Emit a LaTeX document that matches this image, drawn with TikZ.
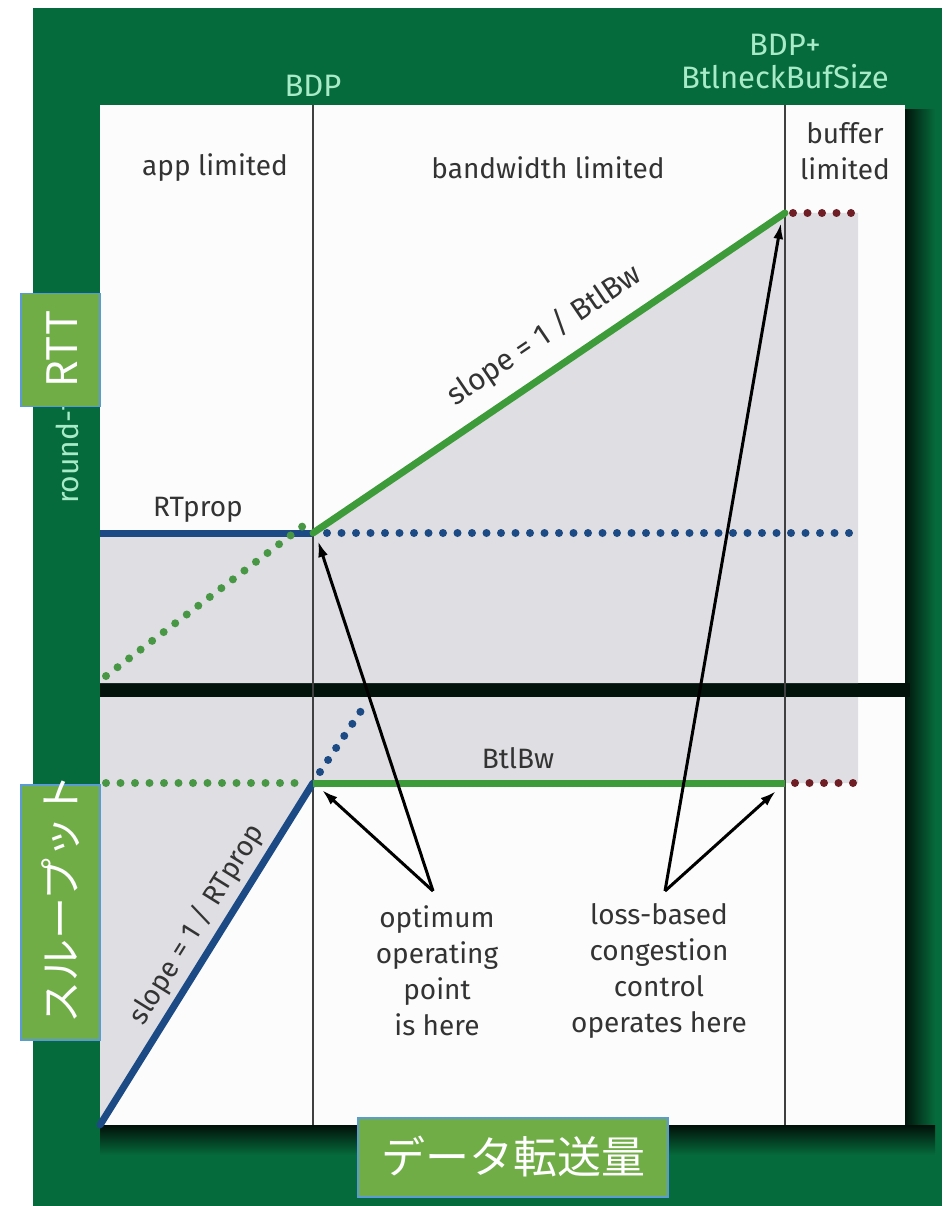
\documentclass[tikz,border=0pt]{standalone}
\usepackage{fontspec}
\setmainfont{Fira Sans}
\newfontfamily\jpfont{Noto Sans CJK JP}
\usetikzlibrary{arrows.meta}
\definecolor{frame}{HTML}{066B3C}
\definecolor{lgtext}{HTML}{A8EBC9}
\definecolor{panel}{HTML}{FCFCFC}
\definecolor{grayfill}{HTML}{DEDEE3}
\definecolor{bluel}{HTML}{1B4A85}
\definecolor{greenl}{HTML}{3D9B3A}
\definecolor{redd}{HTML}{6E1E24}
\definecolor{textc}{HTML}{333333}
\definecolor{vlinec}{HTML}{404040}
\definecolor{boxg}{HTML}{70AD47}
\definecolor{boxb}{HTML}{5B9BD5}
\tikzset{
  lbl/.style={text=textc, font=\fontsize{28}{36}\selectfont, align=center, inner sep=0pt},
  toplbl/.style={text=lgtext, font=\fontsize{31}{33}\selectfont, align=center, inner sep=0pt},
  vline/.style={draw=vlinec, line width=2.8pt},
  solidline/.style={line width=7pt, line cap=round},
  dotline/.style={line width=8pt, line cap=round, dash pattern=on 0pt off 14.5pt},
  pointer/.style={draw=black, line width=3pt, -{Latex[length=16pt,width=10pt]}},
  jpbox/.style={fill=boxg, draw=boxb, line width=1.5pt, inner sep=0pt},
  jptext/.style={text=white, font=\jpfont\fontsize{42}{46}\selectfont, inner sep=0pt},
}
\begin{document}
\begin{tikzpicture}[x=1pt,y=-1pt]
\useasboundingbox (0,0) rectangle (951,1206);
\fill[white] (0,0) rectangle (951,1206);
\fill[frame] (33,8) rectangle (942,1206);
% shadows
\shade[left color=black!80!frame, right color=frame] (905,110) rectangle (935,1150);
\shade[top color=black!85!frame, bottom color=frame] (100,1125) rectangle (935,1155);
\fill[black!82!frame] (100,683) rectangle (910,697);
% panels
\fill[panel] (100,105) rectangle (905,683);
\fill[panel] (100,697) rectangle (905,1125);
% gray areas
\fill[grayfill] (100,533) -- (313,533) -- (785,213) -- (858,213) -- (858,683) -- (100,683) -- cycle;
\fill[grayfill] (100,697) -- (858,697) -- (858,783) -- (313,783) -- (100,1125) -- cycle;
% coordinates
\coordinate (bdpT) at (313,105);
\coordinate (bdpB) at (313,1125);
\coordinate (bufT) at (785,105);
\coordinate (bufB) at (785,1125);
\coordinate (rL) at (100,533);
\coordinate (rP) at (313,533);
\coordinate (rQ) at (785,213);
\coordinate (rRedE) at (858,213);
\coordinate (rBlueE) at (852,533);
\coordinate (rGreenS) at (106,676);
\coordinate (tO) at (100,1125);
\coordinate (tP) at (313,783);
\coordinate (tQ) at (785,783);
\coordinate (tRedE) at (858,783);
\coordinate (tGreenS) at (106,783);
\coordinate (tBlueE) at (367,702);
% vertical lines
\draw[vline] (bdpT) -- (bdpB);
\draw[vline] (bufT) -- (bufB);
% upper panel curves
\draw[solidline, bluel, line cap=butt] (rL) -- (rP);
\draw[dotline, bluel] ([xshift=14pt]rP) -- (rBlueE);
\draw[dotline, greenl!85!gray] (rGreenS) -- ([xshift=-10pt,yshift=7pt]rP);
\draw[solidline, greenl] (rP) -- (rQ) node[pos=0.53, sloped, above=15pt, lbl, font=\fontsize{30}{36}\selectfont] (slopeA) {slope = 1 / BtlBw};
\draw[dotline, redd] ([xshift=8pt]rQ) -- (rRedE);
% lower panel curves
\draw[dotline, greenl!85!gray] (tGreenS) -- ([xshift=-10pt]tP);
\draw[solidline, bluel] (tO) -- (tP) node[pos=0.55, sloped, above=6pt, lbl] (slopeB) {slope = 1 / RTprop};
\draw[dotline, bluel] ([xshift=7pt,yshift=11pt]tP) -- (tBlueE);
\draw[solidline, greenl, line cap=butt] (tP) -- (tQ);
\draw[dotline, redd] ([xshift=10pt]tQ) -- (tRedE);
% labels
\node[lbl] (app) at (215,168) {app limited};
\node[lbl] (bwl) at (548,168) {bandwidth limited};
\node[lbl] (bufl) at (845,151) {buffer\\limited};
\node[lbl] (rtprop) at (198,510) {RTprop};
\node[lbl] (btlbw) at (518,758) {BtlBw};
\node[toplbl] (bdp) at (313,86) {BDP};
\node[toplbl] (bdpbuf) at (785,62) {BDP+\\BtlneckBufSize};
\node[lbl] (opt) at (437,971) {optimum\\operating\\point\\is here};
\node[lbl] (loss) at (659,971) {loss-based\\congestion\\control\\operates here};
% arrows
\coordinate (optO) at (433,891);
\coordinate (lossO) at (665,891);
\draw[pointer] (optO) -- ([xshift=5pt,yshift=-8pt]rP);
\draw[pointer] (optO) -- ([xshift=9pt,yshift=-7pt]tP);
\draw[pointer] (lossO) -- ([xshift=-4pt,yshift=-10pt]rQ);
\draw[pointer] (lossO) -- ([xshift=-9pt,yshift=-8pt]tQ);
% axis labels
\node[text=lgtext, font=\fontsize{30}{32}\selectfont, rotate=90, anchor=west, inner sep=0pt] (rtt0) at (70,504) {round-trip time};
\node[jpbox, minimum width=79pt, minimum height=113pt] (rttbox) at (60.5,350) {};
\node[jptext, rotate=90] (rtt) at (62,349) {RTT};
\node[jpbox, minimum width=79pt, minimum height=255pt] (thrbox) at (60.5,912.5) {};
\node[jptext, rotate=90] (thr) at (61,899) {スループット};
\node[jpbox, minimum width=310pt, minimum height=79pt] (datbox) at (513,1157.5) {};
\node[jptext, font=\jpfont\fontsize{44}{48}\selectfont] (dat) at (513,1157) {データ転送量};
\end{tikzpicture}
\end{document}
